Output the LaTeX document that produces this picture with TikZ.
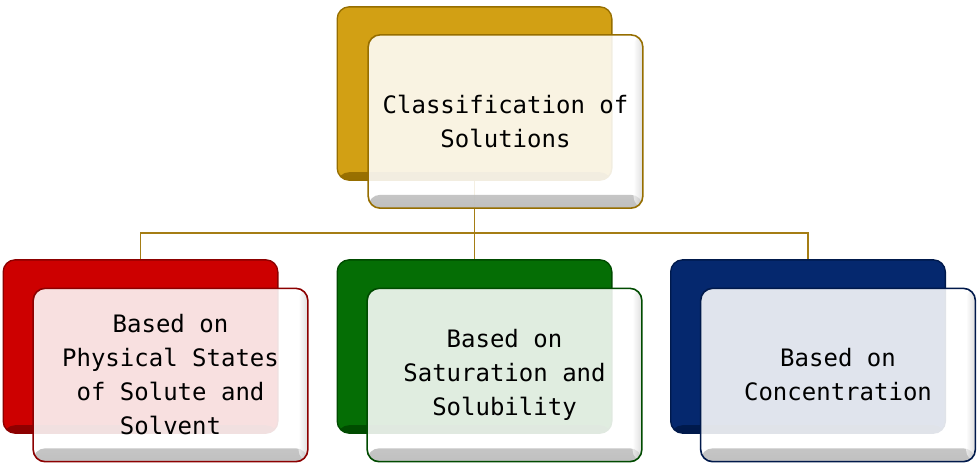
\documentclass[tikz,border=0pt]{standalone}
\usepackage{fontspec}
\setmonofont{DejaVu Sans Mono}
\usepackage{tikz}
\usetikzlibrary{positioning,calc}
\usepackage{xcolor}
\definecolor{goldA}{RGB}{210,160,20}
\definecolor{goldB}{RGB}{150,110,0}
\definecolor{redA}{RGB}{205,0,0}
\definecolor{redB}{RGB}{140,0,0}
\definecolor{greenA}{RGB}{5,110,5}
\definecolor{greenB}{RGB}{0,75,0}
\definecolor{blueA}{RGB}{5,40,110}
\definecolor{blueB}{RGB}{0,25,75}
\definecolor{link}{RGB}{165,125,20}

\begin{document}
\begin{tikzpicture}[x=0.75pt,y=-0.75pt,semithick,
		box/.style={rounded corners=9pt,minimum width=206pt,minimum height=130pt,inner sep=0pt},
		backbox/.style={box,fill=#1A,draw=#1B,line width=1pt,
			path picture={\shade[top color=#1A,bottom color=#1B]
				([yshift=6pt]path picture bounding box.south west) rectangle (path picture bounding box.south east);}},
		frontbox/.style={box,fill=white,fill opacity=0.88,text opacity=1,draw=#1B,line width=1.2pt,
			align=center,font=\ttfamily\fontsize{18}{25.5}\selectfont,
			path picture={\shade[top color=white,bottom color=black!28]
				([yshift=10pt]path picture bounding box.south west) rectangle (path picture bounding box.south east);
				\shade[left color=white,right color=black!22,fill opacity=0.6]
				([xshift=-7pt]path picture bounding box.north east) rectangle (path picture bounding box.south east);}},
		conn/.style={draw=link,line width=1.2pt}]
		\useasboundingbox (0,0) rectangle (978,469);

		\node[backbox=gold] (b0) at (474.5,93.5) {};
		\node[backbox=red] (b1) at (140.5,346.5) {};
		\node[backbox=green] (b2) at (474.5,346.5) {};
		\node[backbox=blue] (b3) at (808,346.5) {};

		\coordinate (bus) at (474.5,233);
		\path[conn] (b0.south) -- (bus);
		\path[conn] (bus) -| (b1.north);
		\path[conn] (bus) -- (b2.north);
		\path[conn] (bus) -| (b3.north);

		\node[frontbox=gold] (f0) at ($(b0)+(31,28)$) {Classification of\\Solutions};
		\node[frontbox=red] (f1) at ($(b1)+(30,28.5)$) {Based on\\Physical States\\of Solute and\\Solvent};
		\node[frontbox=green] (f2) at ($(b2)+(30,28.5)$) {Based on\\Saturation and\\Solubility};
		\node[frontbox=blue] (f3) at ($(b3)+(30,28.5)$) {Based on\\Concentration};
\end{tikzpicture}
\end{document}
